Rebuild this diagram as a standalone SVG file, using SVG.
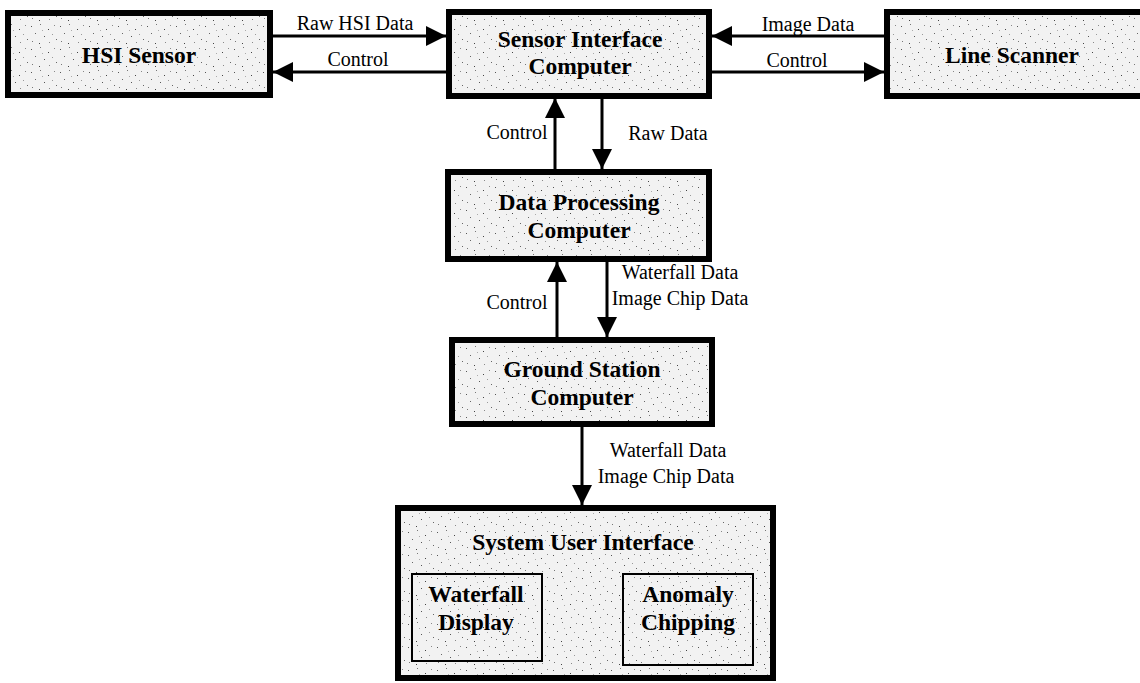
<svg xmlns="http://www.w3.org/2000/svg" width="1140" height="683" viewBox="0 0 1140 683">
<defs>
<pattern id="speckle" width="29" height="23" patternUnits="userSpaceOnUse">
<rect width="29" height="23" fill="#f2f2f2"/>
<rect x="2" y="3" width="1" height="1" fill="#555"/>
<rect x="11" y="1" width="1" height="1" fill="#777"/>
<rect x="19" y="6" width="1" height="1" fill="#444"/>
<rect x="25" y="2" width="1" height="1" fill="#888"/>
<rect x="6" y="10" width="1" height="1" fill="#666"/>
<rect x="15" y="13" width="1" height="1" fill="#555"/>
<rect x="23" y="11" width="1" height="1" fill="#999"/>
<rect x="3" y="18" width="1" height="1" fill="#777"/>
<rect x="10" y="20" width="1" height="1" fill="#444"/>
<rect x="20" y="19" width="1" height="1" fill="#888"/>
<rect x="27" y="16" width="1" height="1" fill="#666"/>
<rect x="13" y="7" width="1" height="1" fill="#aaa"/>
</pattern>
<marker id="ah" markerUnits="userSpaceOnUse" markerWidth="20" markerHeight="20" viewBox="0 0 20 20" refX="20" refY="10" orient="auto">
<path d="M0,0 L20,10 L0,20 Z" fill="#000"/>
</marker>
<style>
.box{fill:url(#speckle);stroke:#000;stroke-width:6}
.inner{fill:url(#speckle);stroke:#000;stroke-width:2}
.t{font-family:"Liberation Serif","Times New Roman",serif;font-weight:bold;font-size:23.5px;text-anchor:middle;fill:#000}
.l{font-family:"Liberation Serif","Times New Roman",serif;font-size:20px;text-anchor:middle;fill:#000}
.c{stroke:#000;stroke-width:3;fill:none;marker-end:url(#ah)}
</style>
</defs>
<rect width="1140" height="683" fill="#fff"/>
<g id="connectors">
<line class="c" x1="273" y1="36" x2="446" y2="36"/>
<line class="c" x1="446" y1="72" x2="273" y2="72"/>
<line class="c" x1="884" y1="36" x2="712" y2="36"/>
<line class="c" x1="712" y1="72" x2="884" y2="72"/>
<line class="c" x1="555" y1="169" x2="555" y2="98"/>
<line class="c" x1="602" y1="98" x2="602" y2="169"/>
<line class="c" x1="557" y1="337" x2="557" y2="262"/>
<line class="c" x1="607" y1="262" x2="607" y2="337"/>
<line class="c" x1="582" y1="427" x2="582" y2="505"/>
<text class="l" x="355" y="30">Raw HSI Data</text>
<text class="l" x="358" y="66">Control</text>
<text class="l" x="808" y="31">Image Data</text>
<text class="l" x="797" y="67">Control</text>
<text class="l" x="517" y="139">Control</text>
<text class="l" x="668" y="140">Raw Data</text>
<text class="l" x="517" y="309">Control</text>
<text class="l" x="680" y="279">Waterfall Data</text>
<text class="l" x="680" y="305">Image Chip Data</text>
<text class="l" x="668" y="457">Waterfall Data</text>
<text class="l" x="666" y="483">Image Chip Data</text>
</g>
<g id="hsi-sensor">
<rect class="box" x="8" y="13" width="262" height="82"/>
<text class="t" x="139" y="63">HSI Sensor</text>
</g>
<g id="sensor-interface">
<rect class="box" x="449" y="12" width="260" height="84"/>
<text class="t" x="580" y="47">Sensor Interface</text>
<text class="t" x="580" y="74">Computer</text>
</g>
<g id="line-scanner">
<rect class="box" x="887" y="12" width="262" height="84"/>
<text class="t" x="1012" y="63">Line Scanner</text>
</g>
<g id="data-processing">
<rect class="box" x="448" y="172" width="261" height="87"/>
<text class="t" x="579" y="210">Data Processing</text>
<text class="t" x="579" y="238">Computer</text>
</g>
<g id="ground-station">
<rect class="box" x="452" y="340" width="260" height="84"/>
<text class="t" x="582" y="377">Ground Station</text>
<text class="t" x="582" y="405">Computer</text>
</g>
<g id="system-user-interface">
<rect class="box" x="398" y="508" width="375" height="170"/>
<text class="t" x="583" y="550">System User Interface</text>
</g>
<g id="waterfall-display">
<rect class="inner" x="412" y="574" width="130" height="87"/>
<text class="t" x="476" y="602">Waterfall</text>
<text class="t" x="476" y="630">Display</text>
</g>
<g id="anomaly-chipping">
<rect class="inner" x="623" y="574" width="130" height="91"/>
<text class="t" x="688" y="602">Anomaly</text>
<text class="t" x="688" y="630">Chipping</text>
</g>
</svg>
